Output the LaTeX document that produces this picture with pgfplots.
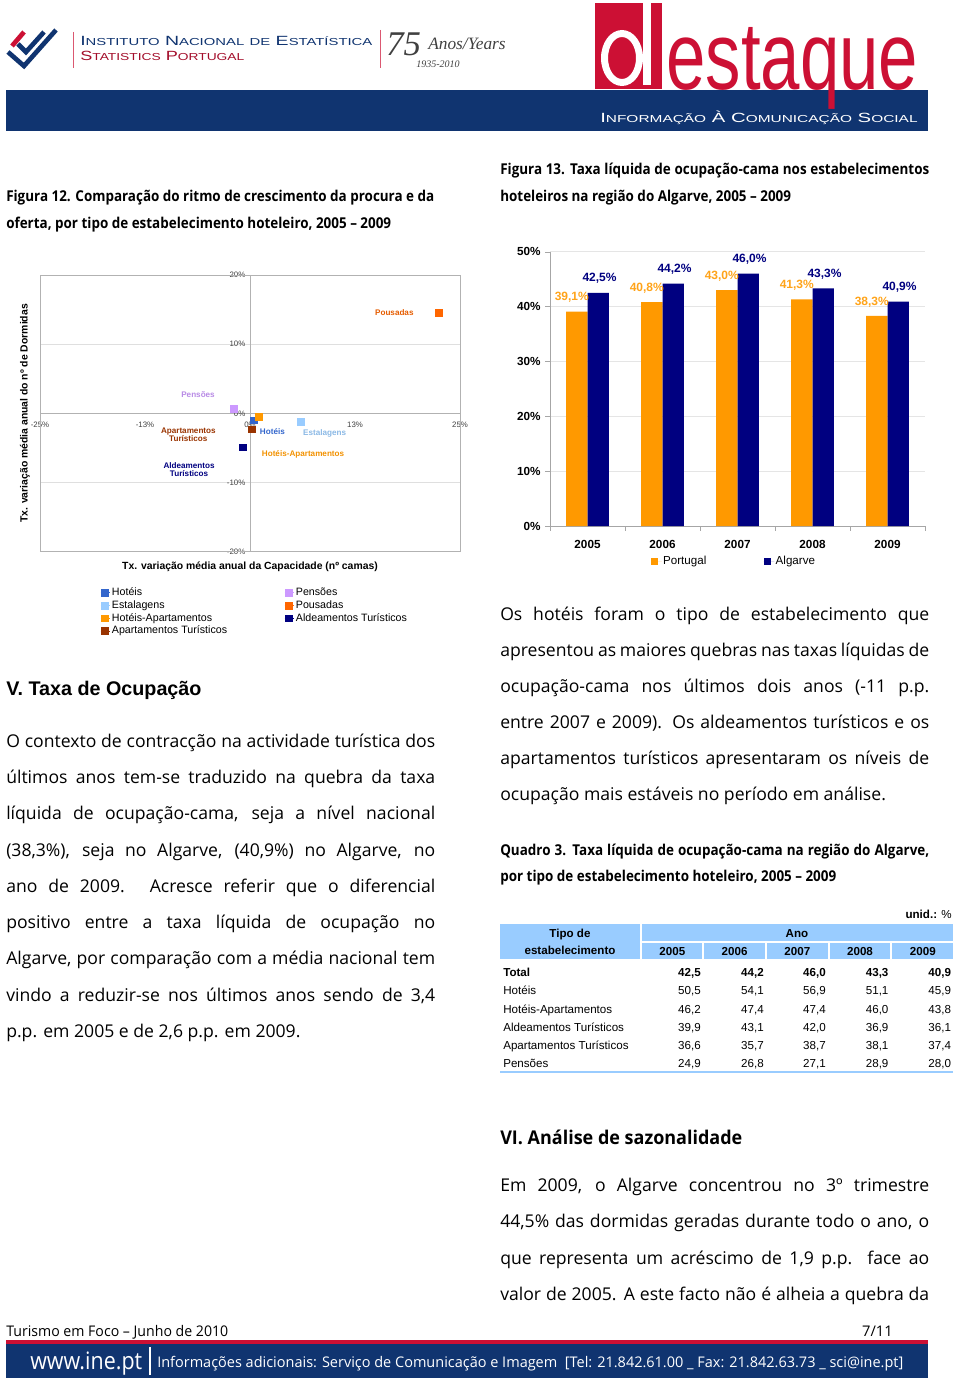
\documentclass[border=0pt]{standalone}
\usepackage{fontspec}
\usepackage{graphicx}
\usepackage{pgfplots}
\pgfplotsset{compat=1.18}
\setmainfont{Liberation Sans}
\newfontfamily\bodyf{Open Sans}
\newfontfamily\capf{Open Sans}[FakeStretch=0.9]
\newfontfamily\headf{Open Sans}[FakeStretch=0.95]
\newfontfamily\footf{Open Sans}
\newfontfamily\serifit{Liberation Serif}

\definecolor{inebl}{RGB}{16,52,112}
\definecolor{inered}{RGB}{204,16,52}
\definecolor{barO}{RGB}{255,153,0}
\definecolor{barN}{RGB}{0,0,128}
\definecolor{cHot}{RGB}{51,102,204}
\definecolor{cEst}{RGB}{153,204,255}
\definecolor{cHA}{RGB}{255,153,0}
\definecolor{cApt}{RGB}{153,51,0}
\definecolor{cPen}{RGB}{204,153,255}
\definecolor{cPou}{RGB}{255,102,0}
\definecolor{cAld}{RGB}{0,0,128}
\definecolor{thead}{RGB}{153,204,255}

\newcommand\fs[1]{\fontsize{#1}{#1}\selectfont}
\newcommand\fsc[2]{{\fs{10}#1}{\fs{7.6}#2}}
% one table row: baseline, label, five values
\newcommand\trow[7]{%
  \node[tabtx,anchor=base west] at (503,#1) {#2};
  \node[tabtx,anchor=base east] at (701,#1) {#3};
  \node[tabtx,anchor=base east] at (764,#1) {#4};
  \node[tabtx,anchor=base east] at (826,#1) {#5};
  \node[tabtx,anchor=base east] at (888.7,#1) {#6};
  \node[tabtx,anchor=base east] at (951.3,#1) {#7};}

\begin{document}
\begin{tikzpicture}[x=0.75pt,y=-0.75pt,
  bodytx/.style={anchor=base west,inner sep=0pt,font=\bodyf\fs{13.2}},
  captx/.style={anchor=base west,inner sep=0pt,font=\capf\bfseries\fs{11.2}},
  tabtx/.style={inner sep=0pt,font=\fs{8.7}}]
\path[use as bounding box] (0,0) rectangle (960,1384);

% ---------- header ----------
\fill[inebl] (6,90) rectangle (928,131);
\draw[inered,line width=3.5pt] (12,46) -- (24,32);
\draw[inebl,line width=3.5pt] (8,52) -- (24,66) -- (56,30);
\draw[inebl,line width=3.5pt] (18,44) -- (26,52) -- (44,32);
\draw[inered!70,line width=0.6pt] (73,32) -- (73,68);
\node[anchor=base west,inner sep=0pt,text=inebl] at (80,46)
  {\resizebox{219pt}{\height}{\fsc{I}{NSTITUTO} \fsc{N}{ACIONAL} {\fs{7.6}DE} \fsc{E}{STATÍSTICA}}};
\node[anchor=base west,inner sep=0pt,text=inered!80!black] at (80,61)
  {\resizebox{123pt}{\height}{\fsc{S}{TATISTICS} \fsc{P}{ORTUGAL}}};
\draw[inered!70,line width=0.6pt] (380,30) -- (380,68);
\node[anchor=base west,inner sep=0pt,text=black!75] at (386,56) {\serifit\itshape\fs{26}75};
\node[anchor=base west,inner sep=0pt,text=black!75] at (428,50) {\serifit\itshape\fs{13}Anos/Years};
\node[anchor=base west,inner sep=0pt,text=black!75] at (416,68) {\serifit\itshape\fs{7.5}1935-2010};
\fill[inered] (595,3) rectangle (662,89);
\fill[white,even odd rule] (622,58) ellipse (21 and 28) (622,58) ellipse (14 and 21);
\fill[white] (643,3) rectangle (651,85);
\node[anchor=base west,inner sep=0pt,text=inered] at (666,90)
  {\resizebox{189pt}{\height}{\fs{72}estaque}};
\node[anchor=base west,inner sep=0pt,text=white] at (600,123)
  {\resizebox{238pt}{\height}{\fsc{I}{NFORMAÇÃO} \fsc{À}{} \fsc{C}{OMUNICAÇÃO} \fsc{S}{OCIAL}}};

% ---------- captions ----------
\node[captx] at (6,201.5) {Figura 12. Comparação do ritmo de crescimento da procura e da};
\node[captx] at (6,228) {oferta, por tipo de estabelecimento hoteleiro, 2005 – 2009};
\node[captx] at (500,175) {\makebox[321.75pt][s]{Figura 13. Taxa líquida de ocupação-cama nos estabelecimentos}};
\node[captx] at (500,201.5) {hoteleiros na região do Algarve, 2005 – 2009};

\begin{scope}[x=1pt,y=1pt]
% ---------- Figure 12: scatter ----------
\begin{axis}[
  at={(30pt,-413.775pt)}, anchor=south west,
  scale only axis, width=315pt, height=207.5pt,
  xmin=-25, xmax=25, ymin=-20, ymax=20,
  axis lines=middle,
  axis line style={gray!60,-},
  xtick={-25,-12.5,0,12.5,25},
  xticklabels={-25\%,-13\%,0\%,13\%,25\%},
  ytick={-20,-10,0,10,20},
  yticklabels={-20\%,-10\%,0\%,10\%,20\%},
  hide obscured x ticks=false, hide obscured y ticks=false,
  major tick length=0pt,
  ymajorgrids, grid style={gray!25},
  tick label style={font=\fs{5.9}, text=black!75},
  xticklabel style={yshift=-3pt},
  xlabel={Tx. variação média anual da Capacidade (nº camas)},
  ylabel={Tx. variação média anual do nº de Dormidas},
  xlabel style={at={(axis description cs:0.5,-0.055)}, anchor=center, font=\bfseries\fs{7.8}},
  ylabel style={at={(axis description cs:-0.036,0.5)}, anchor=center, rotate=90, font=\bfseries\fs{7.8}},
  clip=false,
  legend style={at={(axis description cs:0.143,-0.124)}, anchor=north west,
    draw=none, fill=none, inner sep=0pt, font=\fs{8},
    nodes={inner sep=0.9pt, text height=6pt, text depth=1.8pt},
    /tikz/every even column/.append style={column sep=42pt}},
  legend cell align=left,
  legend columns=4, transpose legend,
  legend image code/.code={\path (0cm,0cm) -- (0.26cm,0cm);
    \draw[#1] plot coordinates {(0.1cm,0cm)};},
  every node near coord/.append style={anchor=center, font=\bfseries\fs{6.1}, inner sep=0pt},
  after end axis/.code={\draw[gray!60] (rel axis cs:0,0) rectangle (rel axis cs:1,1);},
]
\addplot[only marks, mark=square*, mark size=2.6pt, color=cHot,
  nodes near coords={Hotéis},
  every node near coord/.append style={xshift=14.3pt, yshift=-8.3pt, text=cHot}]
  coordinates {(0.4,-1.0)};
\addplot[only marks, mark=square*, mark size=2.6pt, color=cEst,
  nodes near coords={Estalagens},
  every node near coord/.append style={xshift=18.2pt, yshift=-8.7pt, text=cEst!90!black}]
  coordinates {(6.0,-1.2)};
\addplot[only marks, mark=square*, mark size=2.6pt, color=cHA,
  nodes near coords={Hotéis-Apartamentos},
  every node near coord/.append style={xshift=33.5pt, yshift=-28.2pt, text=cHA!95!black}]
  coordinates {(1.0,-0.5)};
\addplot[only marks, mark=square*, mark size=2.6pt, color=cApt,
  nodes near coords={Apartamentos\\Turísticos},
  every node near coord/.append style={xshift=-47.5pt, yshift=-4.1pt, align=center, text=cApt}]
  coordinates {(0.2,-2.3)};
\addplot[only marks, mark=square*, mark size=2.6pt, color=cPen,
  nodes near coords={Pensões},
  every node near coord/.append style={xshift=-27pt, yshift=10.5pt, text=cPen!90!black}]
  coordinates {(-1.9,0.7)};
\addplot[only marks, mark=square*, mark size=2.6pt, color=cPou,
  nodes near coords={Pousadas},
  every node near coord/.append style={xshift=-33.5pt, yshift=0pt, text=cPou!90!black}]
  coordinates {(22.5,14.5)};
\addplot[only marks, mark=square*, mark size=2.6pt, color=cAld,
  nodes near coords={Aldeamentos\\Turísticos},
  every node near coord/.append style={xshift=-40pt, yshift=-17pt, align=center, text=cAld}]
  coordinates {(-0.9,-4.9)};
\legend{Hotéis, Estalagens, Hotéis-Apartamentos, Apartamentos Turísticos,
  Pensões, Pousadas, Aldeamentos Turísticos}
\end{axis}

% ---------- Figure 13: bars ----------
\begin{axis}[
  at={(412.5pt,-394.5pt)}, anchor=south west,
  scale only axis, width=281.25pt, height=205.7pt,
  ybar=0pt, bar width=16.1pt,
  xmin=-0.5, xmax=4.5, ymin=0, ymax=50,
  xtick={0,1,2,3,4}, xticklabels={2005,2006,2007,2008,2009},
  minor xtick={-0.5,0.5,1.5,2.5,3.5,4.5},
  ytick={0,10,20,30,40,50}, yticklabels={0\%,10\%,20\%,30\%,40\%,50\%},
  axis x line*=bottom, axis y line*=left,
  axis line style={gray!70,-},
  ymajorgrids, grid style={gray!20},
  tick align=outside,
  major x tick style={draw=none},
  minor tick length=3.5pt, major tick length=3.5pt,
  tick style={gray!70},
  tick label style={font=\bfseries\fs{8.8}},
  xticklabel style={yshift=-4pt},
  clip=false,
  point meta=explicit symbolic,
  nodes near coords,
  every node near coord/.append style={anchor=center, font=\bfseries\fs{9}, inner sep=0pt},
  legend style={at={(axis description cs:0.49,-0.13)}, anchor=center,
    draw=none, fill=none, font=\fs{8.7}, inner sep=0pt,
    nodes={inner sep=1pt},
    /tikz/every even column/.append style={column sep=42pt}},
  legend columns=2,
  legend image code/.code={\path (0pt,0pt) -- (8pt,0pt);
    \fill[#1] (0pt,-2.7pt) rectangle (5.4pt,2.7pt);},
]
\addplot[fill=barO, draw=none,
  every node near coord/.append style={xshift=-3.75pt, yshift=10.5pt, text=barO!90!white}]
  coordinates {(0,39.1) [39,1\%] (1,40.8) [40,8\%] (2,43.0) [43,0\%] (3,41.3) [41,3\%] (4,38.3) [38,3\%]};
\addplot[fill=barN, draw=none,
  every node near coord/.append style={xshift=1pt, yshift=11pt, text=barN}]
  coordinates {(0,42.5) [42,5\%] (1,44.2) [44,2\%] (2,46.0) [46,0\%] (3,43.3) [43,3\%] (4,40.9) [40,9\%]};
\legend{Portugal, Algarve}
\end{axis}
\end{scope}

% ---------- left text ----------
\node[anchor=base west,inner sep=0pt,font=\bfseries\fs{14.8}] at (6,695) {V. Taxa de Ocupação};
\node[bodytx] at (6,747.3) {\makebox[321.75pt][s]{O contexto de contracção na actividade turística dos}};
\node[bodytx] at (6,783.5) {\makebox[321.75pt][s]{últimos anos tem-se traduzido na quebra da taxa}};
\node[bodytx] at (6,819.8) {\makebox[321.75pt][s]{líquida de ocupação-cama, seja a nível nacional}};
\node[bodytx] at (6,856) {\makebox[321.75pt][s]{(38,3\%), seja no Algarve, (40,9\%) no Algarve, no}};
\node[bodytx] at (6,892.3) {\makebox[321.75pt][s]{ano de 2009. Acresce referir que o diferencial}};
\node[bodytx] at (6,928.5) {\makebox[321.75pt][s]{positivo entre a taxa líquida de ocupação no}};
\node[bodytx] at (6,964.8) {\makebox[321.75pt][s]{Algarve, por comparação com a média nacional tem}};
\node[bodytx] at (6,1001) {\makebox[321.75pt][s]{vindo a reduzir-se nos últimos anos sendo de 3,4}};
\node[bodytx] at (6,1037.3) {p.p. em 2005 e de 2,6 p.p. em 2009.};

% ---------- right text ----------
\node[bodytx] at (500,620) {\makebox[321.75pt][s]{Os hotéis foram o tipo de estabelecimento que}};
\node[bodytx] at (500,656) {\makebox[321.75pt][s]{apresentou as maiores quebras nas taxas líquidas de}};
\node[bodytx] at (500,692) {\makebox[321.75pt][s]{ocupação-cama nos últimos dois anos (-11 p.p.}};
\node[bodytx] at (500,728) {\makebox[321.75pt][s]{entre 2007 e 2009). Os aldeamentos turísticos e os}};
\node[bodytx] at (500,764) {\makebox[321.75pt][s]{apartamentos turísticos apresentaram os níveis de}};
\node[bodytx] at (500,800) {ocupação mais estáveis no período em análise.};

\node[captx] at (500,855) {\makebox[321.75pt][s]{Quadro 3. Taxa líquida de ocupação-cama na região do Algarve,}};
\node[captx] at (500,881.7) {por tipo de estabelecimento hoteleiro, 2005 – 2009};

% ---------- table ----------
\node[tabtx,anchor=base east] at (952,918.3) {\textbf{unid.:} \%};
\fill[thead] (500,924) rectangle (640,959.3);
\fill[thead] (642,924) rectangle (953.3,940.5);
\fill[thead] (642,942.5) rectangle (702.3,959.3);
\fill[thead] (704.3,942.5) rectangle (765,959.3);
\fill[thead] (767,942.5) rectangle (827.7,959.3);
\fill[thead] (829.7,942.5) rectangle (890.3,959.3);
\fill[thead] (892.3,942.5) rectangle (953.3,959.3);
\node[tabtx,anchor=base,font=\bfseries\fs{8.7}] at (570,937.3) {Tipo de};
\node[tabtx,anchor=base,font=\bfseries\fs{8.7}] at (570,954.3) {estabelecimento};
\node[tabtx,anchor=base,font=\bfseries\fs{8.7}] at (797,937.3) {Ano};
\foreach \yr/\cx in {2005/672.3,2006/734.6,2007/797.3,2008/860,2009/922.8}
  \node[tabtx,anchor=base,font=\bfseries\fs{8.7}] at (\cx,955) {\yr};
\trow{976.7}{\textbf{Total}}{\textbf{42,5}}{\textbf{44,2}}{\textbf{46,0}}{\textbf{43,3}}{\textbf{40,9}}
\trow{994.9}{Hotéis}{50,5}{54,1}{56,9}{51,1}{45,9}
\trow{1013.1}{Hotéis-Apartamentos}{46,2}{47,4}{47,4}{46,0}{43,8}
\trow{1031.3}{Aldeamentos Turísticos}{39,9}{43,1}{42,0}{36,9}{36,1}
\trow{1049.5}{Apartamentos Turísticos}{36,6}{35,7}{38,7}{38,1}{37,4}
\trow{1067.7}{Pensões}{24,9}{26,8}{27,1}{28,9}{28,0}
\draw[thead,line width=1.5pt] (500,1072.3) -- (953.3,1072.3);

% ---------- section VI ----------
\node[anchor=base west,inner sep=0pt,font=\headf\bfseries\fs{14.2}] at (500,1144.3) {VI. Análise de sazonalidade};
\node[bodytx] at (500,1191.7) {\makebox[321.75pt][s]{Em 2009, o Algarve concentrou no 3º trimestre}};
\node[bodytx] at (500,1227.8) {\makebox[321.75pt][s]{44,5\% das dormidas geradas durante todo o ano, o}};
\node[bodytx] at (500,1264) {\makebox[321.75pt][s]{que representa um acréscimo de 1,9 p.p. face ao}};
\node[bodytx] at (500,1300.2) {\makebox[321.75pt][s]{valor de 2005. A este facto não é alheia a quebra da}};

% ---------- footer ----------
\node[anchor=base west,inner sep=0pt] at (6,1336) {\resizebox{166.5pt}{\height}{\footf\fs{11}Turismo em Foco – Junho de 2010}};
\node[anchor=base east,inner sep=0pt,font=\footf\fs{11}] at (893,1336) {7/11};
\fill[inered] (6,1340) rectangle (928,1344);
\fill[inebl] (6,1344) rectangle (928,1378);
\node[anchor=base west,inner sep=0pt,text=white] at (30,1369) {\resizebox{84pt}{\height}{\footf\fs{18}www.ine.pt}};
\draw[white,line width=0.8pt] (150,1347) -- (150,1375);
\node[anchor=base west,inner sep=0pt,text=white] at (157,1367)
  {\resizebox{559.5pt}{\height}{\footf\fs{11}Informações adicionais: Serviço de Comunicação e Imagem\ \ [Tel: 21.842.61.00 \_ Fax: 21.842.63.73 \_ sci@ine.pt]}};
\end{tikzpicture}
\end{document}
